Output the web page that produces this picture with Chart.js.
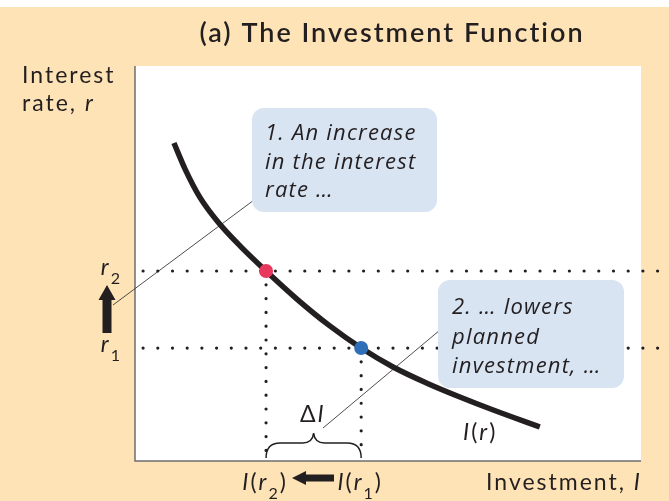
<!DOCTYPE html>
<html>
<head>
<meta charset="utf-8">
<script src="https://cdn.jsdelivr.net/npm/chart.js@4"></script>
<style>
  html, body { margin: 0; padding: 0; background: #fde3b6; }
  canvas { display: block; }
</style>
</head>
<body>
<canvas id="invChart" width="669" height="501"></canvas>
<script>
/* Investment function chart */

// curve I(r) (x = investment, y = interest rate, 0..100)
const curveX = [7.7, 9.9, 12.8, 16.4, 20.8, 25.9, 32.0, 38.5, 44.7, 51.0, 57.7, 64.2, 70.8, 80.0];
const curveY = [80.5, 73.9, 66.8, 60.5, 54.4, 48.1, 41.0, 34.2, 28.6, 23.8, 19.7, 16.2, 12.9, 8.6];

// r2 (high) and r1 (low), and the investment they give
const rateLevels = [48.1, 28.6];
const rateSubs = ['2', '1'];
const investLevels = [25.9, 44.7];
const investSubs = ['2', '1'];
const pointColors = ['#e8385c', '#2f6fb7'];

const title = '(a) The Investment Function';
const yTitle = ['Interest', 'rate, '];
const xTitle = 'Investment, ';
const note1 = ['1. An increase', 'in the interest', 'rate \u2026'];
const note2 = ['2. \u2026 lowers', 'planned', 'investment, \u2026'];

const INK = '#231f20';
const SANS = 'Lato, "Open Sans", sans-serif';
const ITAL = '"Open Sans", Lato, sans-serif';
const LBL = 23;

function richWidth(ctx, parts, size) {
  let w = 0;
  parts.forEach(p => {
    const s = p.sub ? size * 0.7 : size;
    ctx.font = (p.i ? 'italic ' : '') + s + 'px ' + SANS;
    w += ctx.measureText(p.t).width;
  });
  return w;
}

function drawRich(ctx, x, y, parts, size, align) {
  let cx = x;
  if (align === 'center') cx = x - richWidth(ctx, parts, size) / 2;
  if (align === 'right') cx = x - richWidth(ctx, parts, size);
  ctx.textBaseline = 'alphabetic';
  ctx.textAlign = 'left';
  parts.forEach(p => {
    const s = p.sub ? size * 0.7 : size;
    ctx.font = (p.i ? 'italic ' : '') + s + 'px ' + SANS;
    ctx.fillText(p.t, cx, p.sub ? y + size * 0.38 : y);
    cx += ctx.measureText(p.t).width;
  });
}

function roundBox(ctx, x, y, w, h, r) {
  ctx.beginPath();
  ctx.roundRect(x, y, w, h, r);
  ctx.fillStyle = '#d9e4f3';
  ctx.fill();
}

const decor = {
  id: 'decor',
  beforeDraw(chart) {
    const { ctx, chartArea: a } = chart;
    ctx.save();
    ctx.fillStyle = '#fde3b6';
    ctx.fillRect(0, 0, chart.width, chart.height);
    ctx.fillStyle = '#ffffff';
    ctx.fillRect(0, 0, chart.width, 7);
    ctx.fillRect(a.left, a.top, a.right - a.left, a.bottom - a.top);
    ctx.restore();
  },
  beforeDatasetsDraw(chart) {
    const { ctx, chartArea: a } = chart;
    ctx.save();
    // axes
    ctx.strokeStyle = '#6d6e70';
    ctx.lineWidth = 1.5;
    ctx.beginPath();
    ctx.moveTo(a.left, a.top);
    ctx.lineTo(a.left, a.bottom);
    ctx.lineTo(a.right, a.bottom);
    ctx.stroke();
    // leader lines
    ctx.strokeStyle = '#3a3a3a';
    ctx.lineWidth = 0.9;
    ctx.beginPath();
    ctx.moveTo(113, 305);
    ctx.lineTo(254, 200);
    ctx.moveTo(323, 428);
    ctx.lineTo(440, 330);
    ctx.stroke();
    ctx.restore();
  },
  afterDatasetsDraw(chart) {
    const { ctx, scales: { x, y } } = chart;
    ctx.save();
    ctx.fillStyle = INK;
    ctx.strokeStyle = INK;

    // title
    ctx.font = '600 27px ' + SANS;
    ctx.textAlign = 'center';
    ctx.textBaseline = 'alphabetic';
    ctx.letterSpacing = '2px';
    ctx.fillText(title, 392, 42);
    ctx.letterSpacing = '2px';

    // y title
    ctx.textAlign = 'left';
    ctx.font = LBL + 'px ' + SANS;
    ctx.fillText(yTitle[0], 22, 83);
    drawRich(ctx, 22, 111, [{ t: yTitle[1] }, { t: 'r', i: true }], LBL, 'left');

    // rate tick labels r2, r1
    rateLevels.forEach((v, i) => {
      drawRich(ctx, 122, y.getPixelForValue(v) + 4, [{ t: 'r', i: true }, { t: rateSubs[i], sub: true }], LBL, 'right');
    });

    // investment tick labels I(r2), I(r1)
    investLevels.forEach((v, i) => {
      drawRich(ctx, x.getPixelForValue(v) - 1, 490,
        [{ t: 'I', i: true }, { t: '(' }, { t: 'r', i: true }, { t: investSubs[i], sub: true }, { t: ')' }], LBL, 'center');
    });

    // x title
    drawRich(ctx, 642, 490, [{ t: xTitle }, { t: 'I', i: true }], LBL, 'right');

    // curve label
    drawRich(ctx, 463, 440, [{ t: 'I', i: true }, { t: '(' }, { t: 'r', i: true }, { t: ')' }], LBL, 'left');

    // delta I
    drawRich(ctx, 300, 422, [{ t: '\u0394' }, { t: 'I', i: true }], LBL, 'left');
    ctx.letterSpacing = '0px';

    // brace under the change in investment
    const x2 = x.getPixelForValue(investLevels[0]);
    const x1 = x.getPixelForValue(investLevels[1]);
    const mid = (x1 + x2) / 2;
    ctx.lineWidth = 1.5;
    ctx.beginPath();
    ctx.moveTo(x2, 458);
    ctx.quadraticCurveTo(x2, 443, x2 + 14, 443);
    ctx.lineTo(mid - 11, 443);
    ctx.quadraticCurveTo(mid - 1, 443, mid, 433);
    ctx.quadraticCurveTo(mid + 1, 443, mid + 11, 443);
    ctx.lineTo(x1 - 14, 443);
    ctx.quadraticCurveTo(x1, 443, x1, 458);
    ctx.stroke();

    // up arrow r1 -> r2
    ctx.beginPath();
    ctx.moveTo(102.5, 333);
    ctx.lineTo(102.5, 300);
    ctx.lineTo(98.5, 300);
    ctx.lineTo(107, 285);
    ctx.lineTo(115.5, 300);
    ctx.lineTo(111.5, 300);
    ctx.lineTo(111.5, 333);
    ctx.closePath();
    ctx.fill();

    // left arrow I(r1) -> I(r2)
    ctx.beginPath();
    ctx.moveTo(334, 474.5);
    ctx.lineTo(306, 474.5);
    ctx.lineTo(306, 471);
    ctx.lineTo(292, 478);
    ctx.lineTo(306, 485);
    ctx.lineTo(306, 481.5);
    ctx.lineTo(334, 481.5);
    ctx.closePath();
    ctx.fill();

    // call-out boxes
    roundBox(ctx, 252, 108, 185, 104, 12);
    roundBox(ctx, 438, 280, 186, 108, 12);
    ctx.fillStyle = INK;
    ctx.font = 'italic 22px ' + ITAL;
    ctx.letterSpacing = '1.2px';
    ctx.textAlign = 'left';
    note1.forEach((t, i) => ctx.fillText(t, 265, 140 + i * 28.5));
    note2.forEach((t, i) => ctx.fillText(t, 452, 314 + i * 29.5));

    ctx.restore();
  }
};

const datasets = [];
// red and blue points on the curve
investLevels.forEach((v, i) => {
  datasets.push({
    data: [{ x: v, y: rateLevels[i] }],
    pointRadius: 7,
    pointBackgroundColor: pointColors[i],
    pointBorderWidth: 0,
    showLine: false,
    order: 0
  });
});
// the investment curve
datasets.push({
  data: curveX.map((v, i) => ({ x: v, y: curveY[i] })),
  showLine: true,
  borderColor: INK,
  borderWidth: 5.5,
  borderCapStyle: 'butt',
  cubicInterpolationMode: 'monotone',
  pointRadius: 0,
  order: 1
});
// dotted guides
rateLevels.forEach(v => {
  datasets.push({
    data: [{ x: 1.6, y: v }, { x: 105.6, y: v }],
    showLine: true,
    borderColor: INK,
    borderWidth: 3.2,
    borderDash: [0, 14.7],
    borderCapStyle: 'round',
    pointRadius: 0,
    clip: false,
    order: 2
  });
});
investLevels.forEach((v, i) => {
  datasets.push({
    data: [{ x: v, y: rateLevels[i] }, { x: v, y: 0.7 }],
    showLine: true,
    borderColor: INK,
    borderWidth: 3.2,
    borderDash: [0, 13.8],
    borderCapStyle: 'round',
    pointRadius: 0,
    clip: false,
    order: 2
  });
});

new Chart(document.getElementById('invChart').getContext('2d'), {
  type: 'scatter',
  data: { datasets },
  options: {
    responsive: false,
    animation: false,
    events: [],
    layout: { padding: { left: 135, right: 28, top: 66, bottom: 40 } },
    plugins: { legend: { display: false }, tooltip: { enabled: false } },
    scales: {
      x: { type: 'linear', min: 0, max: 100, display: false },
      y: { type: 'linear', min: 0, max: 100, display: false }
    }
  },
  plugins: [decor]
});
</script>
</body>
</html>
